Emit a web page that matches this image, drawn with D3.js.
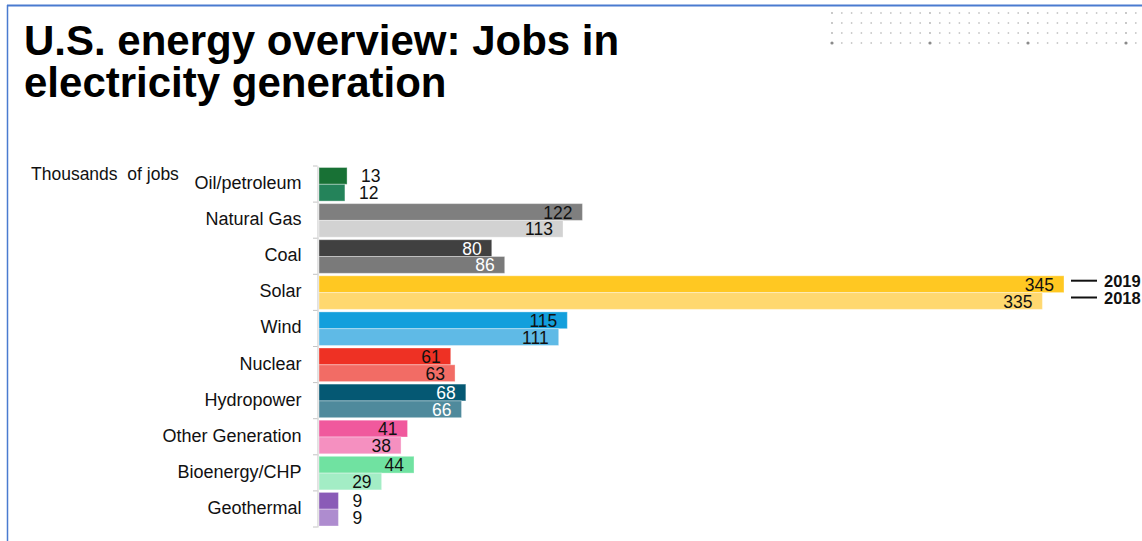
<!DOCTYPE html>
<html>
<head>
<meta charset="utf-8">
<script src="https://cdn.jsdelivr.net/npm/d3@7"></script>
<style>
  html, body { margin: 0; padding: 0; background: #fff; }
  svg { display: block; font-family: "Liberation Sans", Arial, sans-serif; }
</style>
</head>
<body>
<svg id="chart" width="1142" height="541"></svg>
<script>
const categories = ["Oil/petroleum", "Natural Gas", "Coal", "Solar", "Wind", "Nuclear", "Hydropower", "Other Generation", "Bioenergy/CHP", "Geothermal"];
const years = ["2019", "2018"];
const values2019 = [13, 122, 80, 345, 115, 61, 68, 41, 44, 9];
const values2018 = [12, 113, 86, 335, 111, 63, 66, 38, 29, 9];
const colors2019 = ["#187135", "#7f7f7f", "#404040", "#ffc822", "#139fdc", "#ee3124", "#055873", "#f0599d", "#70e2a1", "#8a5bb7"];
const colors2018 = ["#24835a", "#d2d2d2", "#7a7a7a", "#ffd86f", "#5fbae6", "#f26c65", "#4f8a9c", "#f590c0", "#a3edc5", "#ae8ccf"];
const whiteLabelCats = ["Coal", "Hydropower"];
const titleLines = ["U.S. energy overview: Jobs in", "electricity generation"];
const unitLabel = "Thousands  of jobs";

const svg = d3.select("#chart");

// frame
svg.append("line").attr("x1", 7).attr("x2", 1142).attr("y1", 5.5).attr("y2", 5.5)
  .attr("stroke", "#4a7bd0").attr("stroke-width", 2);
svg.append("line").attr("x1", 7.5).attr("x2", 7.5).attr("y1", 5).attr("y2", 541)
  .attr("stroke", "#4a7bd0").attr("stroke-width", 1.5);

// decorative dots
const dotRows = [13, 23, 33, 43];
const dotCols = d3.range(32);
dotRows.forEach((ry, ri) => {
  dotCols.forEach(ci => {
    const big = ri === 3 && ci % 10 === 0;
    svg.append("circle").attr("cx", 832 + ci * 9.8).attr("cy", ry)
      .attr("r", big ? 1.6 : 0.9)
      .attr("fill", big ? "#8a8a8a" : (ci % 10 === 0 ? "#b0b0b0" : "#c8c8c8"));
  });
});

// title
const title = svg.append("text").attr("x", 24).attr("font-weight", "bold")
  .attr("font-size", 42).attr("fill", "#000");
titleLines.forEach((t, i) => {
  title.append("tspan").attr("x", 24).attr("y", 55 + i * 42).text(t);
});

svg.append("text").attr("x", 31).attr("y", 180).attr("font-size", 17.5)
  .attr("fill", "#111").style("white-space", "pre").text(unitLabel);

// scales
const y = d3.scaleBand().domain(categories).range([166, 527]);
const yInner = d3.scaleBand().domain(years).range([1.5, y.bandwidth() - 1]);
const x = d3.scaleLinear().domain([0, 345]).range([319, 1064]);

// axis
const axis = d3.axisLeft(y).tickSize(0).tickPadding(16);
const gAxis = svg.append("g").attr("transform", "translate(317.5,0)").call(axis);
gAxis.select(".domain").attr("stroke", "#c4c4c4").attr("stroke-width", 1);
gAxis.selectAll(".tick text").attr("font-size", 18).attr("fill", "#111")
  .attr("font-family", "Liberation Sans, Arial, sans-serif").attr("dy", 5);
// boundary tick marks
const bounds = categories.map(c => y(c)).concat([y(categories[categories.length - 1]) + y.bandwidth()]);
svg.append("g").selectAll("line").data(bounds).join("line")
  .attr("x1", 313).attr("x2", 317.5).attr("y1", d => d).attr("y2", d => d)
  .attr("stroke", "#c4c4c4").attr("stroke-width", 1);

// bars
const rows = [];
categories.forEach((c, i) => {
  rows.push({cat: c, year: "2019", v: values2019[i], color: colors2019[i]});
  rows.push({cat: c, year: "2018", v: values2018[i], color: colors2018[i]});
});

const g = svg.append("g");
g.selectAll("rect").data(rows).join("rect")
  .attr("x", x(0))
  .attr("y", d => y(d.cat) + yInner(d.year))
  .attr("width", d => x(d.v) - x(0))
  .attr("height", yInner.bandwidth())
  .attr("fill", d => d.color)
  .attr("stroke", "rgba(255,255,255,0.35)").attr("stroke-width", 1);

g.selectAll("text.val").data(rows).join("text").attr("class", "val")
  .attr("x", d => d.v < 20 ? x(d.v) + 14 : x(d.v) - 10)
  .attr("y", d => y(d.cat) + yInner(d.year) + yInner.bandwidth() / 2 + 6.5)
  .attr("text-anchor", d => d.v < 20 ? "start" : "end")
  .attr("font-size", 17.5)
  .attr("fill", d => whiteLabelCats.includes(d.cat) ? "#fff" : "#111")
  .text(d => d.v);

// legend at solar bars
const legendCat = "Solar";
years.forEach(yr => {
  const cy = y(legendCat) + yInner(yr) + yInner.bandwidth() / 2 - 3.5;
  svg.append("line").attr("x1", 1071).attr("x2", 1097).attr("y1", cy).attr("y2", cy)
    .attr("stroke", "#111").attr("stroke-width", 2);
  svg.append("text").attr("x", 1104).attr("y", cy + 6).attr("font-size", 16.5)
    .attr("font-weight", "bold").attr("fill", "#111").text(yr);
});
</script>
</body>
</html>
